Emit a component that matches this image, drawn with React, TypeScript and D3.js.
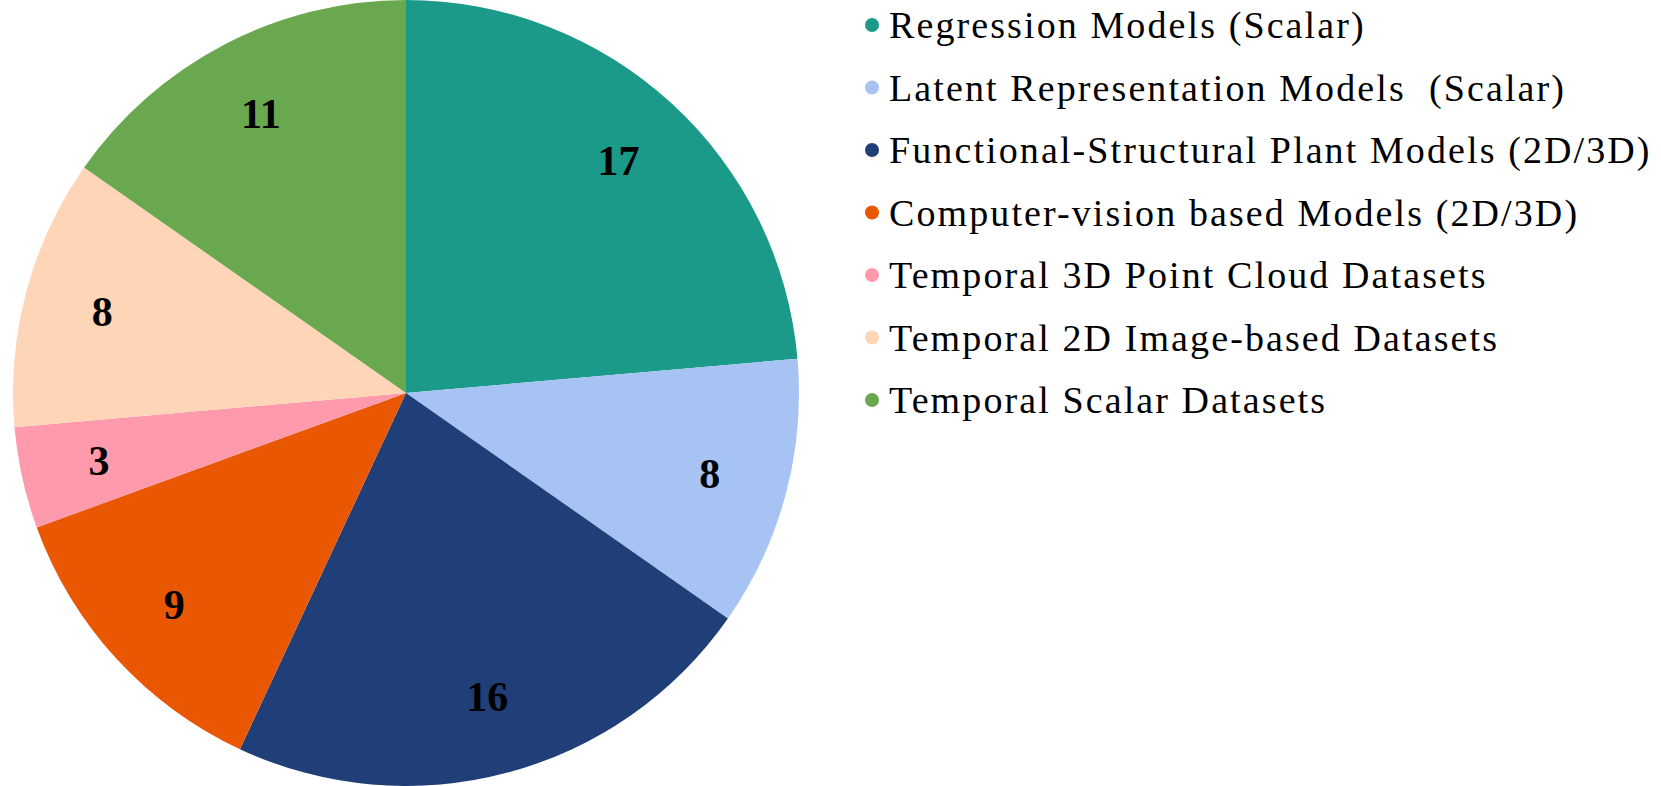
import React from 'react';
import * as d3 from 'd3';

const categories = [
  'Regression Models (Scalar)',
  'Latent Representation Models  (Scalar)',
  'Functional-Structural Plant Models (2D/3D)',
  'Computer-vision based Models (2D/3D)',
  'Temporal 3D Point Cloud Datasets',
  'Temporal 2D Image-based Datasets',
  'Temporal Scalar Datasets',
];
const counts = [17, 8, 16, 9, 3, 8, 11];
const colors = ['#1b9989', '#a6c3f3', '#203e77', '#ea5703', '#ff99ac', '#ffd5b8', '#6aa84f'];

const W = 1661;
const H = 786;

export default function App() {
  const cx = 406;
  const cy = 393;
  const r = 393;

  const pie = d3.pie<number>().sort(null).value((d) => d);
  const arcs = pie(counts);
  const arc = d3.arc<d3.PieArcDatum<number>>().innerRadius(0).outerRadius(r);
  const labelArc = d3.arc<d3.PieArcDatum<number>>().innerRadius(r * 0.8).outerRadius(r * 0.8);

  const legendY = d3.scalePoint<number>().domain(d3.range(categories.length)).range([25, 400]);

  return (
    <svg width={W} height={H} style={{ position: 'absolute', left: 0, top: 0, background: '#fff' }}>
      <g transform={`translate(${cx},${cy})`}>
        {arcs.map((a, i) => (
          <path key={i} d={arc(a) || ''} fill={colors[i]} />
        ))}
        {arcs.map((a, i) => {
          const [x, y] = labelArc.centroid(a);
          return (
            <text key={i} x={x} y={y} textAnchor="middle" dominantBaseline="central"
              fontFamily="Liberation Serif" fontWeight="bold" fontSize={42} fill="#000">
              {counts[i]}
            </text>
          );
        })}
      </g>
      <g>
        {categories.map((c, i) => (
          <g key={i} transform={`translate(872,${legendY(i)})`}>
            <circle r={7} fill={colors[i]} />
            <text x={17} y={0} dominantBaseline="central" fontFamily="Liberation Serif" fontSize={38}
              letterSpacing={2.1} fill="#000" style={{ whiteSpace: 'pre' }}>
              {c}
            </text>
          </g>
        ))}
      </g>
    </svg>
  );
}
